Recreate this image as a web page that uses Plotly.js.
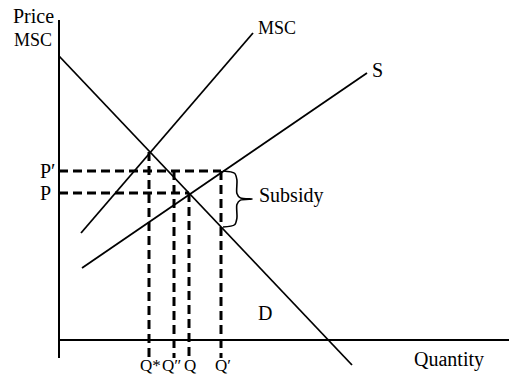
<!DOCTYPE html>
<html>
<head>
<meta charset="utf-8">
<script src="https://cdn.plot.ly/plotly-3.0.1.min.js"></script>
<style>html,body{margin:0;padding:0;background:#fff;}#chart{width:509px;height:381px;}</style>
</head>
<body>
<div id="chart"></div>
<script>
// Curves (quantity, price) endpoints
const demandQ = [0, 293];
const demandP = [284, -25];
const mscQ = [22, 194];
const mscP = [107, 307];
const supplyQ = [23, 308];
const supplyP = [72, 267];

// Quantity markers: label, value, price level where the dashed guide starts
const qLabels = ["Q*", "Q″", "Q", "Q′"];
const qValues = [90, 115, 130, 162];
const qTops = [188, 169, 147, 169];
const qLabelX = [91, 112, 131, 164];

// Price markers: label, value, quantity where the dashed guide ends
const pLabels = ["P′", "P"];
const pValues = [169, 147];
const pEnds = [162, 130];

// Subsidy bracket: between supply price P' and demand price at Q'
const subsidyQ = 162;
const subsidyTop = 169;
const subsidyBottom = 113;

const axisTop = 320, axisBottom = -18, axisRight = 450;
const font = {family: "Liberation Serif", size: 20, color: "#000"};

const traces = [];
const solid = {color: "#000", width: 1.8};
traces.push({x: demandQ, y: demandP, mode: "lines", line: solid, hoverinfo: "skip"});
traces.push({x: mscQ, y: mscP, mode: "lines", line: solid, hoverinfo: "skip"});
traces.push({x: supplyQ, y: supplyP, mode: "lines", line: solid, hoverinfo: "skip"});

const dashed = {color: "#000", width: 3, dash: "9px,5px"};
qValues.forEach((q, i) => {
  traces.push({x: [q, q], y: [qTops[i], axisBottom], mode: "lines", line: dashed, hoverinfo: "skip"});
});
pValues.forEach((p, i) => {
  traces.push({x: [0, pEnds[i]], y: [p, p], mode: "lines", line: dashed, hoverinfo: "skip"});
});

// brace
(function () {
  const x0 = subsidyQ + 2, w = 29;
  const yT = subsidyTop, yB = subsidyBottom, h = yT - yB, mid = (yT + yB) / 2;
  const bx = [x0, x0 + w * 0.4, x0 + w * 0.48, x0 + w * 0.48, x0 + w * 0.6, x0 + w,
              x0 + w * 0.6, x0 + w * 0.48, x0 + w * 0.48, x0 + w * 0.4, x0];
  const by = [yT, yT - h * 0.04, yT - h * 0.16, mid + h * 0.1, mid + h * 0.02, mid,
              mid - h * 0.02, mid - h * 0.1, yB + h * 0.16, yB + h * 0.04, yB];
  traces.push({x: bx, y: by, mode: "lines", line: {color: "#000", width: 1.6, shape: "spline", smoothing: 0.8}, hoverinfo: "skip"});
})();

const annotations = [];
function label(text, x, y, xanchor, size) {
  annotations.push({text: text, x: x, y: y, xref: "x", yref: "y", showarrow: false,
    xanchor: xanchor || "center", yanchor: "middle",
    font: Object.assign({}, font, size ? {size: size} : {})});
}
label("Price", -26, 324);
label("MSC", -26, 300, "center", 18);
pLabels.forEach((t, i) => label(t, -21, pValues[i], "left"));
label("MSC", 197, 312, "left", 18);
label("S", 311, 270, "left");
label("Subsidy", 198, 145, "left");
label("D", 206, 27);
label("Quantity", 353, -19, "left");
qLabels.forEach((t, i) => label(t, qLabelX[i], -25, "center", 17));

const shapes = [
  {type: "line", xref: "x", yref: "y", x0: 0, x1: 0, y0: axisBottom, y1: axisTop, line: {color: "#000", width: 2}},
  {type: "line", xref: "x", yref: "y", x0: 0, x1: axisRight, y0: 0, y1: 0, line: {color: "#000", width: 2}}
];

const layout = {
  width: 509, height: 381,
  margin: {l: 0, r: 0, t: 0, b: 0},
  paper_bgcolor: "#fff", plot_bgcolor: "#fff",
  showlegend: false,
  xaxis: {range: [-59, 450], visible: false, fixedrange: true},
  yaxis: {range: [-41, 340], visible: false, fixedrange: true},
  shapes: shapes,
  annotations: annotations,
  font: font
};
Plotly.newPlot("chart", traces, layout, {staticPlot: true, displayModeBar: false});
</script>
</body>
</html>
